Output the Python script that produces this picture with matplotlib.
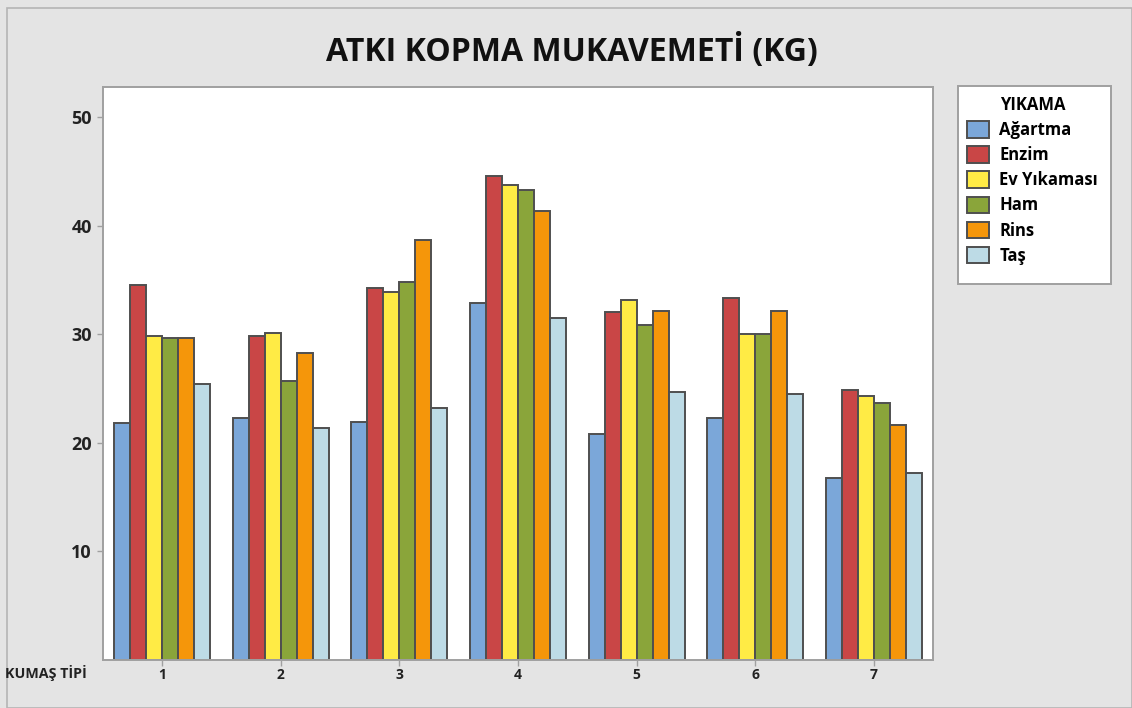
import numpy as np
import matplotlib
matplotlib.use("Agg")
import matplotlib.pyplot as plt
from matplotlib.patches import Rectangle

plt.rcParams['font.family'] = ['Open Sans', 'DejaVu Sans']

# data
kumas_tipi = ["1", "2", "3", "4", "5", "6", "7"]
yikama = ["Ağartma", "Enzim", "Ev Yıkaması", "Ham", "Rins", "Taş"]
agartma = [21.8, 22.3, 21.95, 32.9, 20.8, 22.3, 16.8]
enzim = [34.6, 29.9, 34.3, 44.6, 32.1, 33.4, 24.9]
ev_yikamasi = [29.9, 30.15, 33.9, 43.8, 33.2, 30.0, 24.3]
ham = [29.65, 25.7, 34.8, 43.3, 30.9, 30.0, 23.7]
rins = [29.65, 28.3, 38.7, 41.4, 32.2, 32.2, 21.65]
tas = [25.4, 21.4, 23.2, 31.5, 24.7, 24.5, 17.2]
series = [agartma, enzim, ev_yikamasi, ham, rins, tas]
colors = ["#7ba7d9", "#c94646", "#ffeb45", "#8aa53a", "#f5960a", "#bddbe6"]

W, H = 1132, 708
fig = plt.figure(figsize=(W / 100, H / 100), dpi=100)
fig.patch.set_facecolor("#e4e4e4")
# outer frame
fig.add_artist(Rectangle((7 / W, 0), 1 - 7 / W, 1 - 8 / H, transform=fig.transFigure,
                         fill=False, edgecolor="#b4b4b4", linewidth=1.2))

ax = fig.add_axes([103 / W, (H - 660) / H, (933 - 103) / W, (660 - 87) / H])
ax.set_facecolor("white")

x = np.arange(1, len(kumas_tipi) + 1)
width = 0.135
for i, (vals, c, name) in enumerate(zip(series, colors, yikama)):
    off = (i - 2.5) * width
    ax.bar(x + off, vals, width, color=c, edgecolor="#4f4f4f", linewidth=1.4, label=name)

ax.set_xlim(0.5, 7.5)
ax.set_ylim(0, 52.8)
ax.set_yticks([10, 20, 30, 40, 50])
ax.set_xticks(x)
ax.set_xticklabels(kumas_tipi)
for lbl in ax.get_yticklabels():
    lbl.set_fontsize(13)
    lbl.set_fontweight("bold")
    lbl.set_color("#222222")
for lbl in ax.get_xticklabels():
    lbl.set_fontsize(10)
    lbl.set_fontweight("bold")
    lbl.set_color("#222222")
ax.tick_params(axis="both", color="#a0a0a0", length=4, width=1)
ax.tick_params(axis="y", pad=4)
ax.tick_params(axis="x", pad=2)
for s in ax.spines.values():
    s.set_color("#a0a0a0")
    s.set_linewidth(1.4)

fig.text(572 / W, 1 - 51 / H, "ATKI KOPMA MUKAVEMETİ (KG)", ha="center", va="center",
         fontsize=23, fontweight="bold", color="#111111")
fig.text(5 / W, 1 - 673 / H, "KUMAŞ TİPİ", ha="left", va="center",
         fontsize=10.3, fontweight="bold", color="#222222")

# legend box drawn separately so its size matches
fig.add_artist(Rectangle((958 / W, 1 - 284 / H), (1111 - 958) / W, (284 - 86) / H,
                         transform=fig.transFigure, facecolor="white",
                         edgecolor="#a0a0a0", linewidth=1.4, zorder=2))
leg = fig.legend(loc="upper left", bbox_to_anchor=(961 / W, 1 - 90 / H), title="YIKAMA",
                 frameon=False, prop={"size": 12, "weight": "bold"},
                 title_fontproperties={"size": 12, "weight": "bold"},
                 handlelength=1.35, handleheight=1.15, handletextpad=0.6, labelspacing=0.43,
                 borderpad=0.35, borderaxespad=0)
leg.set_zorder(3)

fig.savefig("out.png", dpi=100, facecolor=fig.get_facecolor())
